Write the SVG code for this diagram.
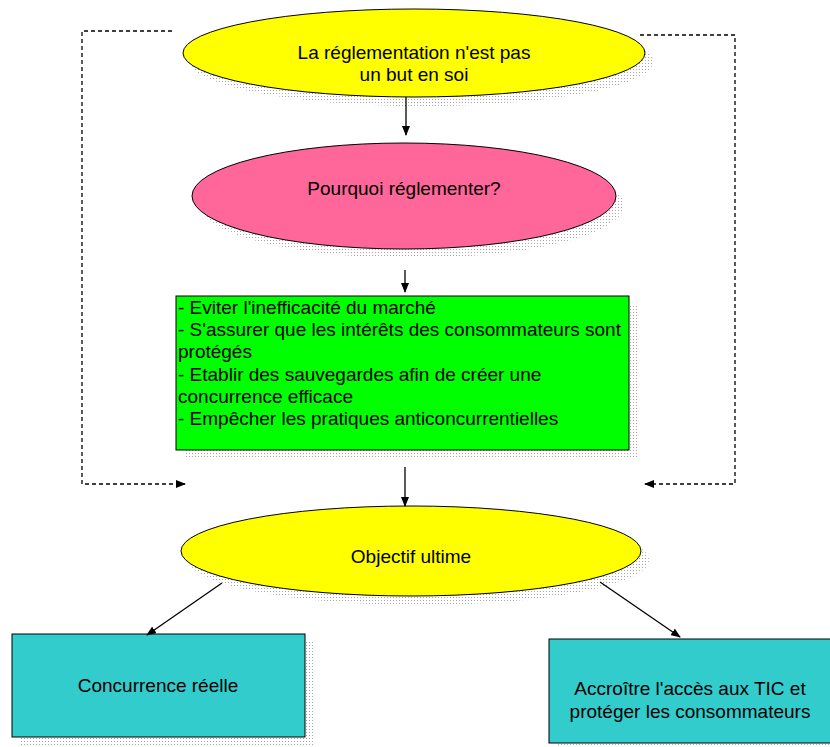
<svg xmlns="http://www.w3.org/2000/svg" width="830" height="747" viewBox="0 0 830 747">
<defs>
<pattern id="dots" width="3" height="3" patternUnits="userSpaceOnUse"><rect x="0" y="0" width="1" height="1" fill="#a8a8a8"/></pattern>
<marker id="ah" markerWidth="10" markerHeight="8" refX="9" refY="4" orient="auto" markerUnits="userSpaceOnUse"><path d="M0,0 L10,4 L0,8 z" fill="#000"/></marker>
<style>
.sh{fill:url(#dots)}
.n{stroke:#000;stroke-width:1}
.t{font-family:"Liberation Sans",Arial,sans-serif;font-size:19px;fill:#000}
.c{text-anchor:middle}
.e{stroke:#000;stroke-width:1.3;fill:none}
.d{stroke:#000;stroke-width:1.3;fill:none;stroke-dasharray:4 3}
</style>
</defs>
<rect width="830" height="747" fill="#fff"/>
<g id="node-reglementation">
<ellipse class="sh" cx="422" cy="62" rx="231" ry="44"/>
<ellipse class="n" cx="414" cy="53" rx="231" ry="44" fill="#FFFF00"/>
<text class="t c" x="414" y="59">La réglementation n'est pas</text>
<text class="t c" x="414" y="81">un but en soi</text>
</g>
<g id="node-pourquoi">
<ellipse class="sh" cx="412" cy="205" rx="212" ry="53"/>
<ellipse class="n" cx="404" cy="196" rx="212" ry="53" fill="#FF6699"/>
<text class="t c" x="404" y="195">Pourquoi réglementer?</text>
</g>
<g id="node-raisons">
<rect class="sh" x="184" y="304" width="453" height="154"/>
<rect class="n" x="176" y="296" width="453" height="154" fill="#00FF00"/>
<text class="t" x="178" y="314">- Eviter l'inefficacité du marché</text>
<text class="t" x="178" y="336">- S'assurer que les intérêts des consommateurs sont</text>
<text class="t" x="178" y="358">protégés</text>
<text class="t" x="178" y="381">- Etablir des sauvegardes afin de créer une</text>
<text class="t" x="178" y="403">concurrence efficace</text>
<text class="t" x="178" y="425">- Empêcher les pratiques anticoncurrentielles</text>
</g>
<g id="node-objectif">
<ellipse class="sh" cx="419" cy="560" rx="230" ry="45"/>
<ellipse class="n" cx="411" cy="551" rx="230" ry="45" fill="#FFFF00"/>
<text class="t c" x="411" y="563">Objectif ultime</text>
</g>
<g id="node-concurrence">
<rect class="sh" x="20" y="642" width="293" height="103"/>
<rect class="n" x="12" y="634" width="293" height="103" fill="#33CCCC"/>
<text class="t c" x="158" y="692">Concurrence réelle</text>
</g>
<g id="node-acces">
<rect class="sh" x="557" y="647" width="282" height="104"/>
<rect class="n" x="549" y="639" width="284" height="104" fill="#33CCCC"/>
<text class="t c" x="690" y="695">Accroître l'accès aux TIC et</text>
<text class="t c" x="690" y="718">protéger les consommateurs</text>
</g>
<g id="connectors">
<line class="e" x1="406" y1="97" x2="406" y2="135" marker-end="url(#ah)"/>
<line class="e" x1="405" y1="270" x2="405" y2="292" marker-end="url(#ah)"/>
<line class="e" x1="405" y1="467" x2="405" y2="506" marker-end="url(#ah)"/>
<line class="e" x1="222" y1="583" x2="147" y2="635" marker-end="url(#ah)"/>
<line class="e" x1="600" y1="582" x2="680" y2="637" marker-end="url(#ah)"/>
<polyline class="d" points="172,31 82,31 82,484 185,484" marker-end="url(#ah)"/>
<polyline class="d" points="640,35 735,35 735,484 645,484" marker-end="url(#ah)"/>
</g>
</svg>
